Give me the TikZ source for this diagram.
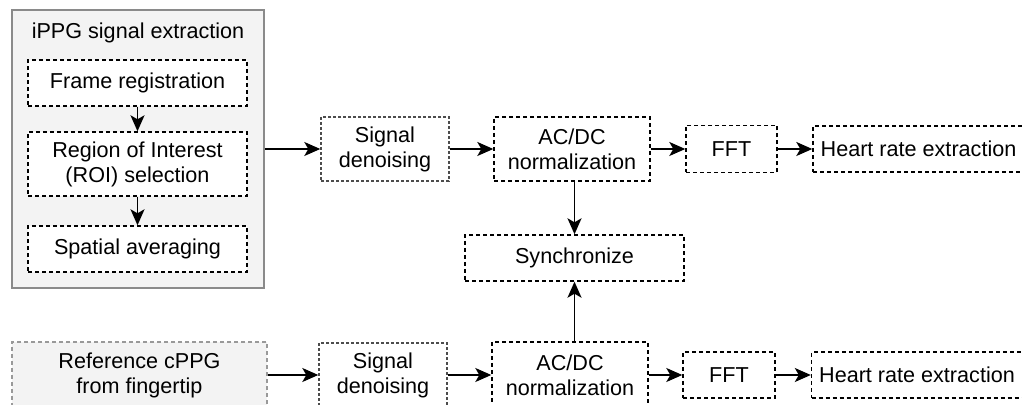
\documentclass[tikz,border=0pt]{standalone}
\usepackage{fontspec}
\setmainfont{Liberation Sans}
\usetikzlibrary{arrows.meta}
\definecolor{groupfill}{HTML}{F3F3F3}
\definecolor{groupline}{HTML}{8A8A8A}
\tikzset{
  group/.style={draw=groupline,fill=groupfill,line width=0.9pt,rectangle,inner sep=0pt},
  stage/.style={draw,dash pattern=on 2pt off 1.5pt,line width=0.7pt,fill=white,rectangle,align=center,inner sep=0pt},
  filter/.style={stage,draw=black!70,dash pattern=on 1.5pt off 1pt},
  source/.style={stage,draw=black!40,fill=groupfill},
  link/.style={-{Stealth[length=8pt,width=7pt,inset=2pt]},line width=0.8pt}
}

\begin{document}
\begin{tikzpicture}[x=0.5pt,y=-0.5pt,font=\fontsize{10.8}{12.5}\selectfont]
  \useasboundingbox (0,0) rectangle (1022,405);
  \clip (0,0) rectangle (1022,405);

  \node[group,minimum width=126pt,minimum height=139pt] (ippg) at (138,149) {};
  \node (title) at (138,33) {iPPG signal extraction};
  \node[stage,minimum width=109.5pt,minimum height=23pt] (frame) at (137.5,83) {Frame registration};
  \node[stage,minimum width=109.5pt,minimum height=32pt] (roi) at (137.5,164) {Region of Interest\\(ROI) selection};
  \node[stage,minimum width=109.5pt,minimum height=23pt] (spatial) at (137.5,249) {Spatial averaging};

  \node[filter,minimum width=64pt,minimum height=32pt] (den1) at (385,149) {Signal\\denoising};
  \node[stage,minimum width=78pt,minimum height=32pt] (norm1) at (572,149) {AC/DC\\normalization};
  \node[stage,minimum width=45.5pt,minimum height=23.5pt] (fft1) at (731.5,149) {FFT};
  \node[stage,minimum width=105.5pt,minimum height=23pt] (hr1) at (918.5,149) {Heart rate extraction};

  \node[stage,minimum width=109.5pt,minimum height=23pt] (sync) at (574.5,258) {Synchronize};

  \node[source,minimum width=127.5pt,minimum height=33pt] (cppg) at (139.5,375) {Reference cPPG\\from fingertip};
  \node[filter,minimum width=64pt,minimum height=32pt] (den2) at (383,375) {Signal\\denoising};
  \node[stage,minimum width=78pt,minimum height=33pt] (norm2) at (570,375) {AC/DC\\normalization};
  \node[stage,minimum width=46pt,minimum height=23pt] (fft2) at (729,375) {FFT};
  \node[stage,minimum width=105.5pt,minimum height=23pt] (hr2) at (917,375) {Heart rate extraction};

  \draw[link] (frame) -- (roi);
  \draw[link] (roi) -- (spatial);

  \draw[link] (ippg.east) -- (den1.west);
  \draw[link] (den1) -- (norm1);
  \draw[link] (norm1) -- (fft1);
  \draw[link] (fft1) -- (hr1);
  \draw[link] (norm1.south -| sync) -- (sync.north);

  \draw[link] (cppg) -- (den2);
  \draw[link] (den2) -- (norm2);
  \draw[link] (norm2) -- (fft2);
  \draw[link] (fft2) -- (hr2);
  \draw[link] (norm2.north -| sync) -- (sync.south);
\end{tikzpicture}
\end{document}
